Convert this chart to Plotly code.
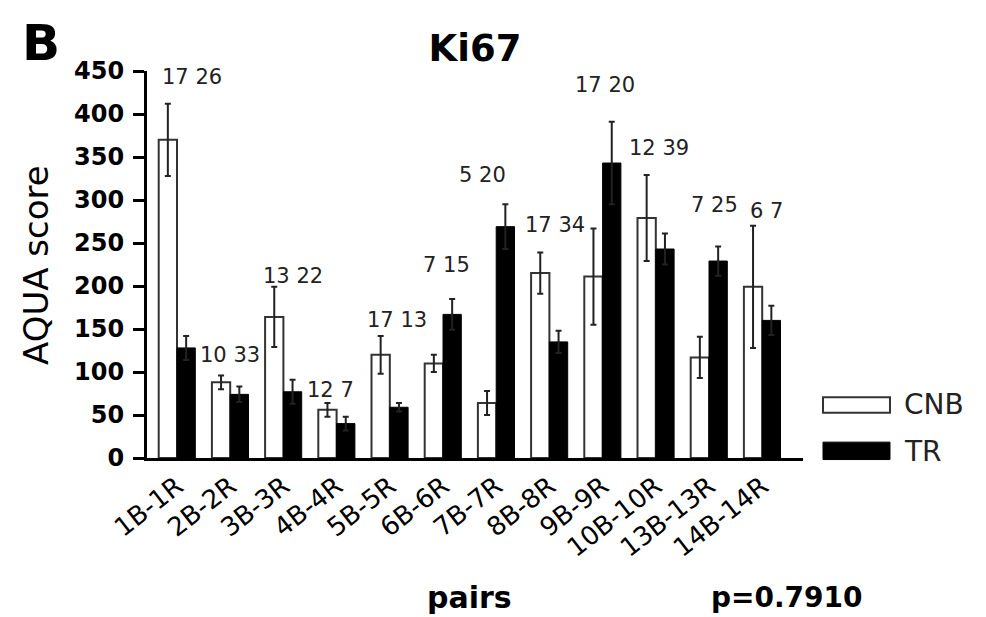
import plotly.graph_objects as go

pairs = ["1B-1R", "2B-2R", "3B-3R", "4B-4R", "5B-5R", "6B-6R",
         "7B-7R", "8B-8R", "9B-9R", "10B-10R", "13B-13R", "14B-14R"]
cnb_mean = [370, 88, 164, 56, 120, 110, 64, 215, 211, 279, 117, 199]
cnb_err = [42, 8, 35, 8, 22, 10, 14, 24, 56, 50, 24, 71]
tr_mean = [128, 74, 77, 40, 59, 167, 269, 135, 343, 243, 229, 160]
tr_err = [14, 9, 14, 8, 5, 18, 26, 13, 48, 18, 17, 17]
n_cnb = [17, 10, 13, 12, 17, 7, 5, 17, 17, 12, 7, 6]
n_tr = [26, 33, 22, 7, 13, 15, 20, 34, 20, 39, 25, 7]
# annotation placement for the "n n" count labels
label_y = [443, 120, 212, 79, 160, 225, 329, 271, 434, 360, 294, 287]
label_dx = [15, 0, 10, -6, 7, 3, -14, 6, 2, 3, 5, 4]

FONT = "DejaVu Sans"
x_idx = list(range(len(pairs)))

# page body has an 8px margin; size the figure so the plot lands where the reference has it
W, H = 978, 609

fig = go.Figure()
fig.add_trace(go.Bar(
    x=x_idx, y=cnb_mean, name="CNB",
    marker=dict(color="white", line=dict(color="#333333", width=2)),
    error_y=dict(type="data", array=cnb_err, visible=True,
                 color="#222222", thickness=2, width=3),
))
fig.add_trace(go.Bar(
    x=x_idx, y=tr_mean, name="TR",
    marker=dict(color="black", line=dict(color="black", width=1)),
    error_y=dict(type="data", array=tr_err, visible=True,
                 color="#222222", thickness=2, width=3),
))

annotations = []
for i, (a, b, ly, dx) in enumerate(zip(n_cnb, n_tr, label_y, label_dx)):
    annotations.append(dict(
        x=i, y=ly, xref="x", yref="y", text=f"{a} {b}", showarrow=False,
        xshift=dx, font=dict(family=FONT, size=21, color="#222222"),
        xanchor="center", yanchor="middle"))

# panel letter
annotations.append(dict(x=-0.194, y=1.152, xref="paper", yref="paper", text="<b>B</b>",
                        showarrow=False, xanchor="left", yanchor="top",
                        font=dict(family=FONT, size=50, color="black")))
# y-axis title
annotations.append(dict(x=-0.169, y=0.499, xref="paper", yref="paper", text="AQUA score",
                        showarrow=False, textangle=-90, xanchor="center", yanchor="middle",
                        font=dict(family=FONT, size=34, color="black")))
# x-axis title
annotations.append(dict(x=0.492, y=-0.36, xref="paper", yref="paper", text="<b>pairs</b>",
                        showarrow=False, xanchor="center", yanchor="middle",
                        font=dict(family=FONT, size=30, color="black")))
annotations.append(dict(x=0.976, y=-0.36, xref="paper", yref="paper", text="<b>p=0.7910</b>",
                        showarrow=False, xanchor="center", yanchor="middle",
                        font=dict(family=FONT, size=28, color="black")))
# legend text
annotations.append(dict(x=1.151, y=0.137, xref="paper", yref="paper", text="CNB",
                        showarrow=False, xanchor="left", yanchor="middle",
                        font=dict(family=FONT, size=28, color="#222222")))
annotations.append(dict(x=1.151, y=0.018, xref="paper", yref="paper", text="TR",
                        showarrow=False, xanchor="left", yanchor="middle",
                        font=dict(family=FONT, size=28, color="#222222")))

shapes = [
    dict(type="rect", xref="paper", yref="paper", x0=1.0305, x1=1.1326, y0=0.117, y1=0.157,
         line=dict(color="#333333", width=2), fillcolor="white"),
    dict(type="rect", xref="paper", yref="paper", x0=1.0305, x1=1.1326, y0=-0.004, y1=0.041,
         line=dict(color="black", width=1), fillcolor="black"),
]

fig.update_layout(
    width=W, height=H,
    margin=dict(l=139, r=183, t=63, b=159),
    paper_bgcolor="white", plot_bgcolor="white",
    barmode="group", bargap=0.312, bargroupgap=0,
    showlegend=False,
    title=dict(text="<b>Ki67</b>", x=(475 - 8) / W, xanchor="center",
               y=1 - (48 - 8) / H, yanchor="middle",
               font=dict(family=FONT, size=37, color="black")),
    annotations=annotations,
    shapes=shapes,
    font=dict(family=FONT, color="black"),
)
fig.update_xaxes(
    range=[-0.564, 11.767], tickmode="array", tickvals=x_idx, ticktext=pairs,
    tickangle=-38, tickfont=dict(family=FONT, size=26, color="black"),
    showline=True, linecolor="black", linewidth=3, ticks="",
    showgrid=False, zeroline=False,
)
fig.update_yaxes(
    range=[0, 450], tickmode="array", tickvals=list(range(0, 451, 50)),
    tickfont=dict(family=FONT, size=24, color="black", weight="bold"),
    showline=True, linecolor="black", linewidth=3,
    ticks="outside", ticklen=11, tickwidth=3, tickcolor="black",
    ticklabelstandoff=4,
    showgrid=False, zeroline=False,
)

fig.write_html("out.html")
